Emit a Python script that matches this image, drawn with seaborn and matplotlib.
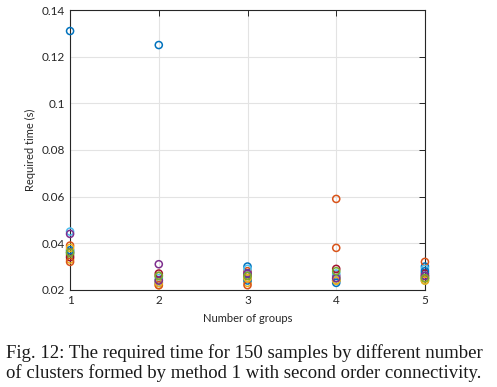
import pandas as pd
import numpy as np
import matplotlib.pyplot as plt
import seaborn as sns

# required time (s) per run, for 1..5 groups
groups = [1, 2, 3, 4, 5]
run01 = [0.131, 0.125, 0.030, 0.024, 0.030]
run02 = [0.039, 0.026, 0.028, 0.059, 0.032]
run03 = [0.033, 0.022, 0.023, 0.024, 0.025]
run04 = [0.036, 0.031, 0.027, 0.026, 0.026]
run05 = [0.035, 0.024, 0.025, 0.025, 0.024]
run06 = [0.045, 0.025, 0.029, 0.027, 0.029]
run07 = [0.034, 0.027, 0.026, 0.029, 0.027]
run08 = [0.037, 0.023, 0.024, 0.023, 0.028]
run09 = [0.032, 0.022, 0.022, 0.038, 0.025]
run10 = [0.038, 0.023, 0.025, 0.024, 0.024]
run11 = [0.044, 0.024, 0.027, 0.025, 0.026]
run12 = [0.036, 0.026, 0.026, 0.028, 0.025]

runs = [run01, run02, run03, run04, run05, run06, run07, run08, run09, run10, run11, run12]
matlab_colors = ['#0072BD', '#D95319', '#EDB120', '#7E2F8E', '#77AC30', '#4DBEEE', '#A2142F']

rows = []
for i, r in enumerate(runs):
    for g, t in zip(groups, r):
        rows.append({'groups': g, 'time': t, 'run': i})
df = pd.DataFrame(rows)
pal = [matlab_colors[i % len(matlab_colors)] for i in range(len(runs))]

sns.set_style('whitegrid')
plt.rcParams['font.family'] = ['Lato', 'DejaVu Sans']

fig = plt.figure(figsize=(4.97, 3.87), dpi=100)
ax = fig.add_axes([0.141, 0.251, 0.714, 0.723])

sns.scatterplot(data=df, x='groups', y='time', hue='run', palette=pal,
                s=26, linewidth=1.1, legend=False, ax=ax, zorder=3, clip_on=False)
for coll in ax.collections:
    fc = coll.get_facecolors()
    coll.set_edgecolors(fc)
    coll.set_facecolors('none')

ax.set_xlim(1, 5)
ax.set_ylim(0.02, 0.14)
ax.set_xticks(groups)
ax.set_yticks([0.02, 0.04, 0.06, 0.08, 0.1, 0.12, 0.14])
ax.set_yticklabels(['0.02', '0.04', '0.06', '0.08', '0.1', '0.12', '0.14'])
ax.set_xlabel('Number of groups', fontsize=8, labelpad=5)
ax.set_ylabel('Required time (s)', fontsize=8, labelpad=4)
ax.tick_params(labelsize=8.5, colors='#262626', direction='in', length=4,
               top=True, right=True, width=0.7)
ax.grid(color='#e3e3e3', linewidth=0.8)
for sp in ax.spines.values():
    sp.set_color('#262626')
    sp.set_linewidth(0.8)

caption = ('Fig. 12: The required time for 150 samples by different number\n'
           'of clusters formed by method 1 with second order connectivity.')
fig.text(0.012, 0.012, caption, family=['Liberation Serif', 'DejaVu Serif'],
         fontsize=13.5, ha='left', va='bottom', linespacing=1.15, color='#1a1a1a')

plt.savefig('out.png', dpi=100)
